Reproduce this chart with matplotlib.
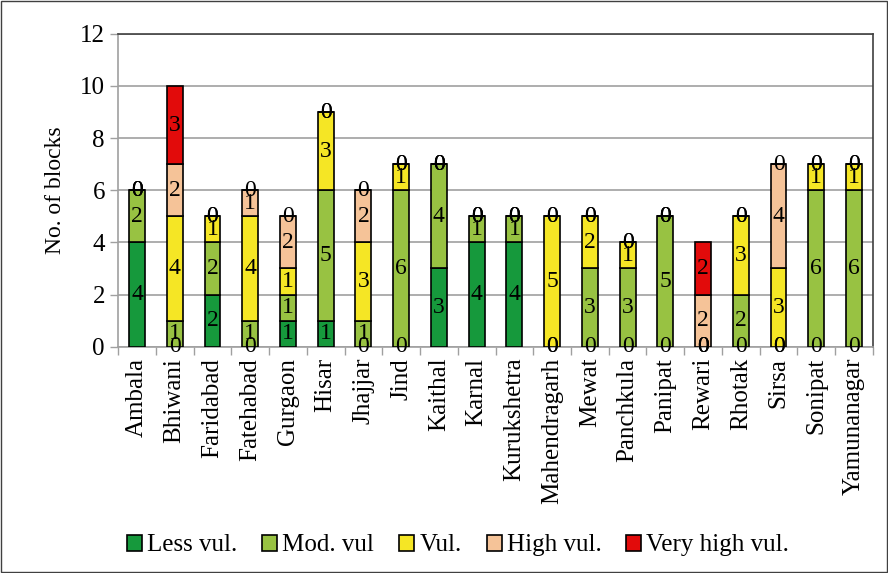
import matplotlib

matplotlib.use("Agg")
import matplotlib.pyplot as plt
import numpy as np
from matplotlib.patches import Rectangle

# ============================================================================
# Data
# ============================================================================

districts = [
    "Ambala", "Bhiwani", "Faridabad", "Fatehabad", "Gurgaon", "Hisar",
    "Jhajjar", "Jind", "Kaithal", "Karnal", "Kurukshetra", "Mahendragarh",
    "Mewat", "Panchkula", "Panipat", "Rewari", "Rhotak", "Sirsa", "Sonipat",
    "Yamunanagar",
]
less_vul = [4, 0, 2, 0, 1, 1, 0, 0, 3, 4, 4, 0, 0, 0, 0, 0, 0, 0, 0, 0]
mod_vul = [2, 1, 2, 1, 1, 5, 1, 6, 4, 1, 1, 0, 3, 3, 5, 0, 2, 0, 6, 6]
vul = [0, 4, 1, 4, 1, 3, 3, 1, 0, 0, 0, 5, 2, 1, 0, 0, 3, 3, 1, 1]
high_vul = [0, 2, 0, 1, 2, 0, 2, 0, 0, 0, 0, 0, 0, 0, 0, 2, 0, 4, 0, 0]
very_high_vul = [0, 3, 0, 0, 0, 0, 0, 0, 0, 0, 0, 0, 0, 0, 0, 2, 0, 0, 0, 0]

series_names = ["Less vul.", "Mod. vul", "Vul.", "High vul.", "Very high vul."]
series_colors = ["#16993C", "#98C242", "#F5E625", "#F5C398", "#E20B0B"]

# ============================================================================
# Plot
# ============================================================================

plt.rcParams["font.family"] = ["Liberation Serif", "DejaVu Serif"]

fig = plt.figure(figsize=(8.88, 5.73), dpi=100)
ax = fig.add_axes([0.133, 0.395, 0.85, 0.546])

x = np.arange(len(districts))
bottom = np.zeros(len(districts))
all_series = [less_vul, mod_vul, vul, high_vul, very_high_vul]

for values, name, color in zip(all_series, series_names, series_colors):
    values = np.array(values, dtype=float)
    ax.bar(
        x, values, width=0.42, bottom=bottom, color=color,
        edgecolor="black", linewidth=1.2, label=name, zorder=3,
    )
    for xi, b, v in zip(x, bottom, values):
        ax.text(
            xi, b + v / 2, f"{int(v)}", ha="center", va="center",
            fontsize=17, color="black", zorder=4,
        )
    bottom += values

ax.set_xlim(-0.5, len(districts) - 0.5)
ax.set_ylim(0, 12)
ax.set_yticks(np.arange(0, 13, 2))
ax.set_xticks(x)
ax.set_xticklabels(districts, rotation=90, fontsize=18)
ax.tick_params(axis="x", which="major", length=0, pad=8)
ax.set_xticks(np.arange(-0.5, len(districts), 1), minor=True)
ax.tick_params(axis="x", which="minor", length=6, color="#A0A0A0", width=1)
ax.tick_params(axis="y", labelsize=18, length=6, color="#A0A0A0", width=1)
ax.set_ylabel("No. of blocks", fontsize=17, labelpad=10)

ax.grid(axis="y", color="#A0A0A0", linewidth=1.2, zorder=0)
ax.set_axisbelow(True)
for side in ["left", "bottom"]:
    ax.spines[side].set_color("#A0A0A0")
    ax.spines[side].set_linewidth(1.2)
for side in ["top", "right"]:
    ax.spines[side].set_color("#404040")
    ax.spines[side].set_linewidth(1.2)

fig.legend(
    loc="center", bbox_to_anchor=(0.516, 0.048), ncol=5, frameon=False,
    fontsize=18, handlelength=0.6, handleheight=0.6, handletextpad=0.2,
    columnspacing=1.0,
)

fig.patches.append(
    Rectangle((0.001, 0.001), 0.998, 0.998, transform=fig.transFigure,
              fill=False, edgecolor="#404040", linewidth=1)
)

plt.savefig("out.png", dpi=100)
plt.close(fig)
